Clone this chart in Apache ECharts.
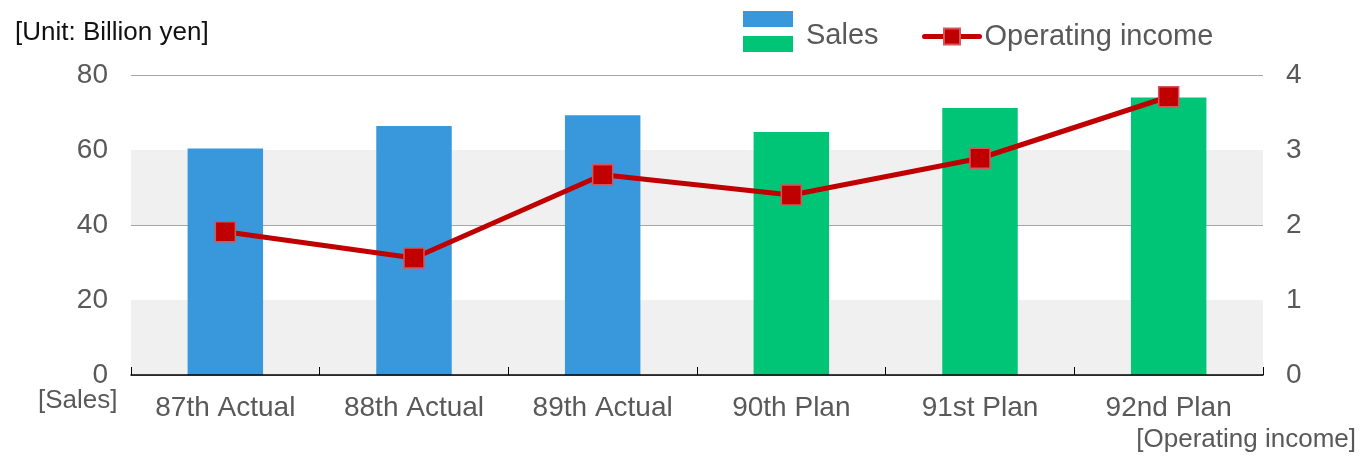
<!DOCTYPE html>
<html>
<head>
<meta charset="utf-8">
<script src="https://cdn.jsdelivr.net/npm/echarts@6/dist/echarts.min.js"></script>
<style>
  html, body { margin: 0; padding: 0; background: #fff; }
  #chart { width: 1361px; height: 457px; }
</style>
</head>
<body>
<div id="chart"></div>
<script>
// 期別
const categories = ['87th Actual', '88th Actual', '89th Actual', '90th Plan', '91st Plan', '92nd Plan']
// 売上 (十億円)
const sales = [60.4, 66.4, 69.3, 64.8, 71.2, 74.0]
// 営業利益 (十億円)
const operatingIncome = [1.91, 1.56, 2.67, 2.40, 2.89, 3.71]
const salesTicks = [0, 20, 40, 60, 80]
const incomeTicks = [0, 1, 2, 3, 4]
// 背景の灰色の帯 (売上軸の値)
const greyBands = [[0, 20], [40, 60]]

const BLUE = '#3898db'
const GREEN = '#00c576'
const RED = '#c00000'
const FONT = 'Liberation Sans, Arial, sans-serif'
const GREY_TEXT = '#595959'

// 凡例: 実績/計画の二色を重ねたアイコン (下に余白を入れて文字を少し下げる)
const salesIcon = 'image://data:image/svg+xml;utf8,' + encodeURIComponent(
  '<svg xmlns="http://www.w3.org/2000/svg" width="50" height="50">' +
  '<rect x="0" y="0" width="50" height="16" fill="' + BLUE + '"/>' +
  '<rect x="0" y="25" width="50" height="16" fill="' + GREEN + '"/></svg>')

const chart = echarts.init(document.getElementById('chart'), null, { renderer: 'canvas' })

chart.setOption({
  animation: false,
  textStyle: { fontFamily: FONT },
  grid: { left: 131, right: 98, top: 75, bottom: 82 },
  legend: [
    {
      data: [{ name: 'Sales', icon: salesIcon }],
      left: 743, top: 11, padding: 0,
      itemWidth: 50, itemHeight: 50,
      textStyle: { fontSize: 29, color: GREY_TEXT, fontFamily: FONT, padding: [0, 0, 0, 8] }
    },
    {
      data: ['Operating income'],
      left: 922, top: 22, padding: 0,
      itemWidth: 55, itemHeight: 20,
      lineStyle: { width: 5, color: RED, cap: 'round' },
      textStyle: { fontSize: 29, color: GREY_TEXT, fontFamily: FONT }
    }
  ],
  graphic: [
    { type: 'text', left: 15, top: 20, style: { text: '[Unit: Billion yen]', fill: '#111', font: '26px ' + FONT } },
    { type: 'text', left: 38, top: 388, style: { text: '[Sales]', fill: GREY_TEXT, font: '26px ' + FONT } },
    { type: 'text', right: 5, top: 427, style: { text: '[Operating income]', fill: GREY_TEXT, font: '26px ' + FONT } }
  ],
  xAxis: {
    type: 'category',
    data: categories,
    z: 5,
    axisLine: { lineStyle: { color: '#000', width: 1.5 } },
    axisTick: { show: true, inside: true, length: 8, lineStyle: { color: '#000' } },
    axisLabel: { fontSize: 28, color: GREY_TEXT, margin: 19, fontFamily: FONT }
  },
  yAxis: [
    {
      type: 'value', min: salesTicks[0], max: salesTicks[salesTicks.length - 1], interval: 20,
      axisLine: { show: false }, axisTick: { show: false },
      axisLabel: { fontSize: 28, color: GREY_TEXT, margin: 23, fontFamily: FONT },
      splitLine: { lineStyle: { color: '#a6a6a6', width: 1.2 } }
    },
    {
      type: 'value', min: incomeTicks[0], max: incomeTicks[incomeTicks.length - 1], interval: 1,
      axisLine: { show: false }, axisTick: { show: false },
      axisLabel: { fontSize: 28, color: GREY_TEXT, margin: 23, fontFamily: FONT },
      splitLine: { show: false }
    }
  ],
  series: [
    {
      // 背景帯だけを描く空の系列
      name: 'bands',
      type: 'line',
      z: 0,
      silent: true,
      data: [],
      markArea: {
        silent: true,
        itemStyle: { color: '#f0f0f0' },
        data: greyBands.map(b => [{ yAxis: b[0] }, { yAxis: b[1] }])
      }
    },
    {
      name: 'Sales',
      type: 'bar',
      z: 2,
      barWidth: '40%',
      itemStyle: { color: BLUE },
      data: sales.map((v, i) => ({
        value: v,
        itemStyle: { color: categories[i].includes('Plan') ? GREEN : BLUE }
      }))
    },
    {
      name: 'Operating income',
      type: 'line',
      z: 3,
      yAxisIndex: 1,
      symbol: 'rect',
      symbolSize: 20,
      lineStyle: { color: RED, width: 5 },
      itemStyle: { color: RED, borderColor: '#d2565a', borderWidth: 1.5 },
      data: operatingIncome
    }
  ]
})
</script>
</body>
</html>
